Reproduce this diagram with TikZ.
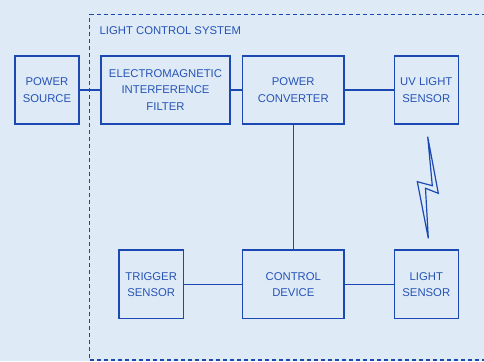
\documentclass[tikz,border=0pt]{standalone}
\usepackage{fontspec}
\setmainfont{Liberation Sans}
\definecolor{bg}{RGB}{222,235,247}
\definecolor{ln}{RGB}{28,72,178}
\definecolor{tx}{RGB}{38,82,182}
\begin{document}
\begin{tikzpicture}[x=1pt,y=-1pt,
  blk/.style={draw=ln,line width=1.15pt,rectangle,inner sep=0pt,align=center,text=tx,
    font=\fontsize{11.3}{16.3}\selectfont},
  wire/.style={draw=ln,line width=1.25pt}]
\useasboundingbox (0,0) rectangle (484,361);
\fill[bg] (0,0) rectangle (484,361);
\begin{scope}
\clip (0,0) rectangle (484,361);
\draw[ln,line width=1.4pt,dash pattern=on 4pt off 3pt] (89.5,14.3) -- (500,14.3) -- (500,360) -- (89.5,360) -- cycle;
\end{scope}
\node[anchor=base west,text=tx,font=\fontsize{11.3}{14}\selectfont,inner sep=0pt] (title) at (99.5,35) {LIGHT CONTROL SYSTEM};

\node[blk,minimum width=64pt,minimum height=68pt] (ps) at (47,90) {POWER\\SOURCE};
\node[blk,minimum width=129pt,minimum height=68pt] (emi) at (165.5,90) {ELECTROMAGNETIC\\INTERFERENCE\\FILTER};
\node[blk,minimum width=101.3pt,minimum height=68pt] (pc) at (293.3,90) {POWER\\CONVERTER};
\node[blk,minimum width=64pt,minimum height=68pt] (uv) at (426.3,90) {UV LIGHT\\SENSOR};
\node[blk,minimum width=101.3pt,minimum height=68.7pt] (cd) at (293.3,284.3) {CONTROL\\DEVICE};
\node[blk,minimum width=64pt,minimum height=68.7pt] (ls) at (426.3,284.3) {LIGHT\\SENSOR};
\node[blk,minimum width=64.3pt,minimum height=68.7pt] (ts) at (151.2,284.3) {TRIGGER\\SENSOR};

\draw[wire] (ps) -- (emi);
\draw[wire] (emi) -- (pc);
\draw[wire] (pc) -- (uv);
\draw[wire] (pc) -- (cd);
\draw[wire] (ts) -- (cd);
\draw[wire] (cd) -- (ls);

\draw[ln,line width=1.2pt,line join=miter] (427.7,136.7) -- (438.3,193.3) -- (425.5,188.3) -- (428.3,238.3) -- (417.3,181.7) -- (432.3,185.7) -- cycle;
\end{tikzpicture}
\end{document}
